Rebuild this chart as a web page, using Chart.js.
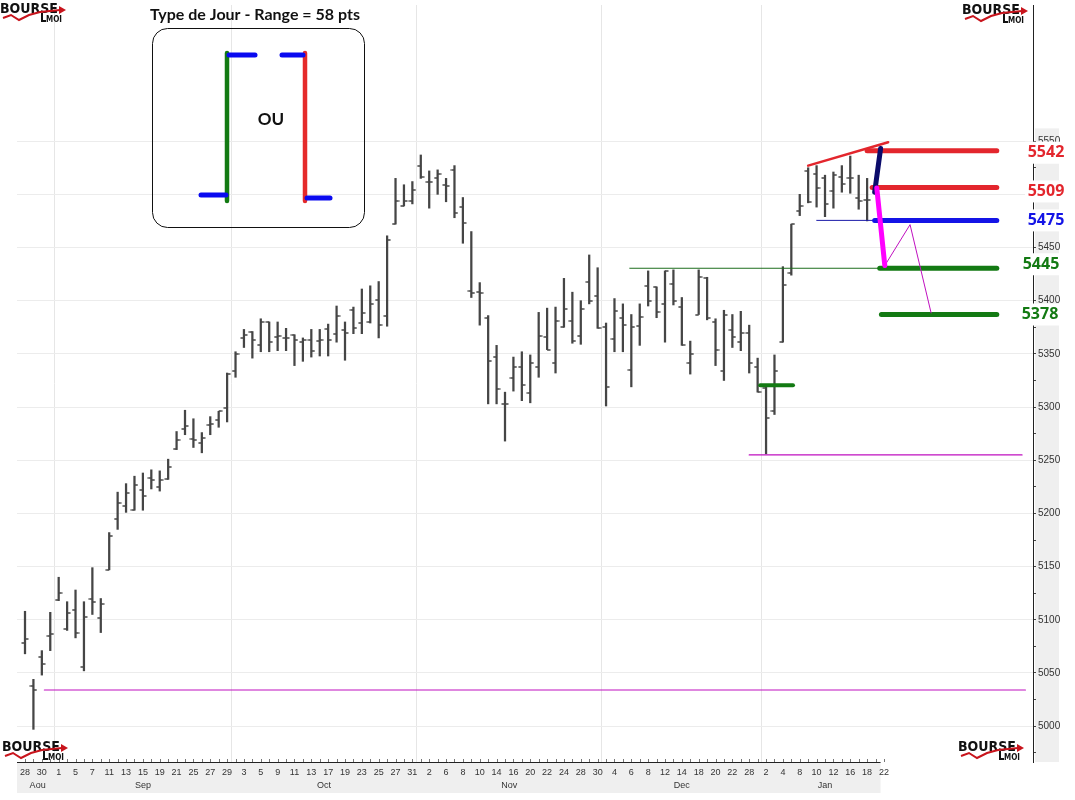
<!DOCTYPE html>
<html>
<head>
<meta charset="utf-8">
<script src="https://cdn.jsdelivr.net/npm/chart.js@4.4.1/dist/chart.umd.min.js"></script>
<style>
  html, body { margin: 0; padding: 0; background: #fff; }
  #wrap { position: relative; width: 1075px; height: 800px; }
</style>
</head>
<body>
<div id="wrap"><canvas id="chart" width="1075" height="800"></canvas></div>
<script>
'use strict';

// ── Data ─────────────────────────────────────────────────────────────────────
const monthNames = ['Aou', 'Sep', 'Oct', 'Nov', 'Dec', 'Jan'];
const monthDays = [
  [28, 29, 30, 31],
  [1, 4, 5, 6, 7, 8, 11, 12, 13, 14, 15, 18, 19, 20, 21, 22, 25, 26, 27, 28, 29],
  [2, 3, 4, 5, 6, 9, 10, 11, 12, 13, 16, 17, 18, 19, 20, 23, 24, 25, 26, 27, 30, 31],
  [1, 2, 3, 6, 7, 8, 9, 10, 13, 14, 15, 16, 17, 20, 21, 22, 23, 24, 27, 28, 29, 30],
  [1, 4, 5, 6, 7, 8, 11, 12, 13, 14, 15, 18, 19, 20, 21, 22, 27, 28, 29],
  [2, 3, 4, 5, 8, 9, 10, 11, 12, 15, 16, 17, 18, 19, 22],
];

const opens = [
  5078, 5038, 5065, 5085, 5119, 5091, 5109, 5056, 5120, 5102,
  5147, 5195, 5207, 5203, 5222, 5233, 5225, 5232, 5261, 5279,
  5270, 5266, 5283, 5288, 5299, 5334, 5365, 5371, 5358, 5380,
  5366, 5365, 5368, 5361, 5363, 5362, 5373, 5369, 5372, 5391,
  5379, 5380, 5401, 5386, 5472, 5489, 5494, 5527, 5512, 5515,
  5509, 5523, 5488, 5409, 5408, 5384, 5347, 5303, 5327, 5338,
  5313, 5338, 5366, 5341, 5375, 5381, 5367, 5418, 5404, 5375,
  5364, 5384, 5335, 5376, 5414, 5413, 5397, 5416, 5394, 5341,
  5387, 5421, 5380, 5334, 5372, 5361, 5370, 5338, 5318, 5296,
  5361, 5426, 5484, 5522, 5519, 5515, 5503, 5516, 5515, 5497,
  5495,
];
const highs = [
  5108, 5044, 5071, 5107, 5140, 5117, 5128, 5117, 5149, 5120,
  5182, 5220, 5228, 5235, 5238, 5241, 5240, 5251, 5277, 5297,
  5289, 5276, 5291, 5296, 5332, 5352, 5373, 5371, 5383, 5380,
  5380, 5374, 5368, 5365, 5373, 5373, 5378, 5395, 5380, 5394,
  5411, 5414, 5418, 5461, 5515, 5509, 5512, 5537, 5522, 5523,
  5515, 5527, 5497, 5465, 5417, 5386, 5358, 5314, 5347, 5352,
  5349, 5389, 5393, 5394, 5421, 5408, 5400, 5443, 5431, 5379,
  5402, 5397, 5387, 5397, 5428, 5413, 5428, 5429, 5403, 5362,
  5429, 5422, 5383, 5391, 5387, 5390, 5377, 5346, 5320, 5349,
  5432, 5472, 5500, 5525, 5527, 5518, 5521, 5527, 5536, 5518,
  5515,
];
const lows = [
  5068, 4997, 5048, 5071, 5118, 5090, 5083, 5052, 5105, 5088,
  5147, 5185, 5201, 5203, 5203, 5223, 5221, 5232, 5260, 5274,
  5262, 5257, 5274, 5281, 5286, 5328, 5356, 5346, 5352, 5352,
  5353, 5353, 5339, 5343, 5347, 5348, 5348, 5361, 5344, 5369,
  5369, 5379, 5365, 5376, 5472, 5489, 5491, 5515, 5487, 5500,
  5493, 5478, 5454, 5403, 5377, 5303, 5303, 5268, 5315, 5306,
  5304, 5328, 5354, 5332, 5375, 5360, 5359, 5397, 5374, 5301,
  5352, 5352, 5319, 5358, 5395, 5384, 5361, 5396, 5358, 5331,
  5387, 5382, 5339, 5325, 5356, 5353, 5332, 5314, 5256, 5293,
  5361, 5424, 5480, 5492, 5488, 5479, 5487, 5502, 5501, 5486,
  5475,
];
const closes = [
  5082, 5034, 5058, 5087, 5125, 5106, 5088, 5103, 5117, 5115,
  5179, 5210, 5219, 5227, 5216, 5231, 5231, 5244, 5269, 5282,
  5269, 5271, 5284, 5296, 5331, 5350, 5368, 5363, 5380, 5361,
  5367, 5365, 5363, 5363, 5353, 5363, 5363, 5386, 5370, 5374,
  5388, 5397, 5377, 5457, 5494, 5494, 5504, 5516, 5512, 5519,
  5508, 5482, 5473, 5407, 5407, 5343, 5317, 5303, 5338, 5321,
  5341, 5367, 5354, 5381, 5392, 5362, 5392, 5400, 5374, 5319,
  5390, 5377, 5375, 5385, 5400, 5389, 5428, 5400, 5358, 5350,
  5422, 5384, 5354, 5387, 5366, 5370, 5341, 5314, 5290, 5334,
  5415, 5472, 5489, 5493, 5506, 5491, 5518, 5510, 5515, 5494,
  5495,
];

// target levels drawn on the right
const levelTexts  = ['5542', '5509', '5475', '5445', '5378'];
const levelValues = [5541, 5506.5, 5475.5, 5430.5, 5387];
const levelFrom   = [100.0, 100.6, 100.9, 101.5, 101.7];
const levelTo     = 115.4;

// hand-drawn lines, as [session index, price]
const lowLine1   = [[2.3, 5034], [118.8, 5034]];
const lowLine2   = [[86.0, 5255], [118.4, 5255]];
const greenThin  = [[71.8, 5430.5], [101.5, 5430.5]];
const blueThin   = [[94.0, 5475.5], [100.9, 5475.5]];
const greenShort = [[87.3, 5320.5], [91.2, 5320.5]];
const redTrend   = [[93.0, 5527], [102.5, 5549]];
const navyLeg    = [[101.6, 5543], [100.9, 5502]];
const pinkLeg    = [[101.15, 5506], [102.1, 5433]];
const pinkPath   = [[102.1, 5433], [105.1, 5471.5], [107.6, 5388.5]];

const yTickValues = [];
for (let v = 4975; v <= 5550; v += 25) yTickValues.push(v);

// ── Derived session list ─────────────────────────────────────────────────────
const sessions = [];
monthDays.forEach((days, m) => days.forEach(d => sessions.push({ day: d, month: m })));
const lastSession = sessions.length - 1;
const monthStart = new Set();
sessions.forEach((s, i) => { if (i > 0 && sessions[i - 1].month !== s.month) monthStart.add(i); });

// ── Styles ───────────────────────────────────────────────────────────────────
const RED = '#e3262d', BLUE = '#1414e6', GREEN = '#137a13', NAVY = '#0b0b6b';
const PINK = '#ff00ff', PURPLE = '#c010c0', BAR = '#454545';
const levelColors = [RED, RED, BLUE, GREEN, GREEN];
const levelLabelDx = [13, 13, 13, 8, 7];
const levelLabelDy = [2, 4, 0, -4, 0];

function tickImage(side) {
  const c = document.createElement('canvas');
  c.width = 8; c.height = 2;
  const g = c.getContext('2d');
  g.fillStyle = BAR;
  g.fillRect(side === 'left' ? 0.5 : 4, 0.25, 3.5, 1.5);
  return c;
}

const pts = arr => arr.map(([x, y]) => ({ x, y }));
function lineSet(points, color, width, order) {
  return {
    type: 'line', data: pts(points), borderColor: color, borderWidth: width,
    pointRadius: 0, borderCapStyle: 'round', borderJoinStyle: 'round',
    fill: false, tension: 0, order,
  };
}

const datasets = [
  {
    type: 'bar',
    data: highs.map((h, i) => ({ x: i, y: [lows[i], h] })),
    backgroundColor: BAR, borderWidth: 0, barThickness: 1.6, order: 5,
  },
  {
    type: 'line', showLine: false,
    data: opens.map((v, i) => ({ x: i, y: v })),
    pointStyle: tickImage('left'), pointRadius: 4, order: 4,
  },
  {
    type: 'line', showLine: false,
    data: closes.map((v, i) => ({ x: i, y: v })),
    pointStyle: tickImage('right'), pointRadius: 4, order: 4,
  },
  lineSet(lowLine1, PURPLE, 1.2, 3),
  lineSet(lowLine2, PURPLE, 1.2, 3),
  lineSet(greenThin, '#1d6e1d', 1, 3),
  lineSet(blueThin, '#1a1aa8', 1, 3),
  lineSet(greenShort, GREEN, 4, 3),
  lineSet(redTrend, RED, 2.5, 3),
  ...levelValues.map((v, i) => lineSet([[levelFrom[i], v], [levelTo, v]], levelColors[i], 5, 2)),
  lineSet(pinkPath, PURPLE, 1, 1),
  lineSet(navyLeg, NAVY, 5, 1),
  lineSet(pinkLeg, PINK, 5, 0),
];

// ── Decorations ──────────────────────────────────────────────────────────────
function drawLogo(ctx, x, y) {
  ctx.save();
  ctx.fillStyle = '#111';
  ctx.font = 'bold 14px "DejaVu Sans Condensed", "DejaVu Sans"';
  ctx.textBaseline = 'alphabetic';
  ctx.textAlign = 'left';
  ctx.fillText('BOURSE', x, y + 13);
  ctx.strokeStyle = '#c8141c';
  ctx.lineWidth = 2;
  ctx.beginPath();
  ctx.moveTo(x + 3, y + 18);
  ctx.lineTo(x + 11, y + 15);
  ctx.lineTo(x + 19, y + 20);
  ctx.lineTo(x + 29, y + 15);
  ctx.lineTo(x + 40, y + 12);
  ctx.lineTo(x + 60, y + 10);
  ctx.stroke();
  ctx.fillStyle = '#c8141c';
  ctx.beginPath();
  ctx.moveTo(x + 66, y + 10);
  ctx.lineTo(x + 59, y + 6);
  ctx.lineTo(x + 59, y + 14);
  ctx.closePath();
  ctx.fill();
  ctx.fillStyle = '#111';
  ctx.fillRect(x + 41, y + 13, 2, 9);
  ctx.fillRect(x + 41, y + 20, 5, 2);
  ctx.font = 'bold 8px "DejaVu Sans Condensed", "DejaVu Sans"';
  ctx.fillText('MOI', x + 46, y + 22);
  ctx.restore();
}

function stroke(ctx, color, width, a, b) {
  ctx.strokeStyle = color;
  ctx.lineWidth = width;
  ctx.lineCap = 'round';
  ctx.beginPath();
  ctx.moveTo(a[0], a[1]);
  ctx.lineTo(b[0], b[1]);
  ctx.stroke();
}

function drawInset(ctx) {
  ctx.save();
  ctx.fillStyle = '#111';
  ctx.font = 'bold 16px Lato, "Open Sans", sans-serif';
  ctx.textAlign = 'center';
  ctx.textBaseline = 'middle';
  ctx.fillText('Type de Jour - Range = 58 pts', 255, 15);

  ctx.strokeStyle = '#111';
  ctx.lineWidth = 1;
  ctx.beginPath();
  ctx.roundRect(152.5, 28.5, 212, 199, 15);
  ctx.stroke();

  stroke(ctx, GREEN, 4.5, [227, 53], [227, 201]);
  stroke(ctx, '#e52a2a', 4.5, [305, 53], [305, 201]);
  stroke(ctx, '#0a0af0', 5, [229, 55], [255, 55]);
  stroke(ctx, '#0a0af0', 5, [201, 195], [226, 195]);
  stroke(ctx, '#0a0af0', 5, [282, 55], [303, 55]);
  stroke(ctx, '#0a0af0', 5, [307, 198], [330, 198]);

  ctx.font = 'bold 17px Lato, "Open Sans", sans-serif';
  ctx.fillStyle = '#111';
  ctx.fillText('OU', 271, 120);
  ctx.restore();
}

const decor = {
  id: 'decor',
  beforeDraw(chart) {
    const { ctx, chartArea: a, scales: { x, y } } = chart;
    ctx.save();
    ctx.fillStyle = '#fff';
    ctx.fillRect(0, 0, chart.width, chart.height);
    ctx.fillStyle = '#efefef';
    const stripTop = y.getPixelForValue(5562);
    ctx.fillRect(a.right + 2, stripTop, 24, a.bottom - stripTop);
    const xEnd = x.getPixelForValue(lastSession - 0.4);
    ctx.fillRect(a.left, a.bottom + 1, xEnd - a.left, 30);
    ctx.restore();
  },
  afterDraw(chart) {
    const { ctx, chartArea: a, scales: { x, y } } = chart;
    ctx.save();
    // bottom axis with small ticks up to the last session
    const xEnd = x.getPixelForValue(lastSession - 0.4);
    ctx.strokeStyle = '#222';
    ctx.lineWidth = 1;
    ctx.beginPath();
    ctx.moveTo(a.left, a.bottom + 0.5);
    ctx.lineTo(xEnd, a.bottom + 0.5);
    ctx.stroke();
    ctx.strokeStyle = '#777';
    ctx.beginPath();
    sessions.forEach((s, i) => {
      const px = Math.round(x.getPixelForValue(i)) + 0.5;
      ctx.moveTo(px, a.bottom);
      ctx.lineTo(px, a.bottom - 3);
    });
    ctx.stroke();

    // month names centred on their sessions
    ctx.fillStyle = '#333';
    ctx.font = '9px "Liberation Sans", Arial, sans-serif';
    ctx.textAlign = 'center';
    ctx.textBaseline = 'middle';
    monthNames.forEach((name, m) => {
      const idx = sessions.map((s, i) => (s.month === m ? i : -1)).filter(i => i >= 0);
      const mid = (idx[0] + idx[idx.length - 1]) / 2;
      ctx.fillText(name, x.getPixelForValue(mid), a.bottom + 24);
    });

    // level labels on the price axis
    ctx.font = 'bold 16px "Open Sans", sans-serif';
    levelTexts.forEach((t, i) => {
      const cx = a.right + levelLabelDx[i];
      const cy = y.getPixelForValue(levelValues[i]) + levelLabelDy[i];
      ctx.fillStyle = '#fff';
      ctx.fillRect(cx - 21, cy - 11, 42, 22);
      ctx.fillStyle = levelColors[i];
      ctx.fillText(t, cx, cy);
    });
    ctx.restore();

    drawInset(ctx);
    drawLogo(ctx, 0, 0);
    drawLogo(ctx, 962, 1);
    drawLogo(ctx, 2, 738);
    drawLogo(ctx, 958, 738);
  },
};

// ── Chart ────────────────────────────────────────────────────────────────────
new Chart(document.getElementById('chart'), {
  type: 'bar',
  data: { datasets },
  options: {
    responsive: false,
    animation: false,
    events: [],
    layout: { padding: { left: 17, right: 0, top: 0, bottom: 0 } },
    plugins: { legend: { display: false }, tooltip: { enabled: false } },
    scales: {
      x: {
        type: 'linear', offset: false, min: -0.95, max: 119.7,
        afterBuildTicks: s => { s.ticks = sessions.map((_, i) => ({ value: i })); },
        afterFit: s => { s.height = 38; s.paddingLeft = 0; s.paddingRight = 0; },
        border: { display: false },
        grid: {
          drawTicks: false,
          color: c => (monthStart.has(c.tick && c.tick.value) ? '#e6e6e6' : 'rgba(0,0,0,0)'),
        },
        ticks: {
          autoSkip: false, maxRotation: 0, minRotation: 0, padding: 5,
          color: '#333', font: { family: '"Liberation Sans", Arial, sans-serif', size: 9 },
          callback: v => (Number.isInteger(v) && v % 2 === 0 && sessions[v] ? String(sessions[v].day) : ''),
        },
      },
      y: {
        position: 'right', min: 4966.3, max: 5678,
        afterBuildTicks: s => { s.ticks = yTickValues.map(v => ({ value: v })); },
        afterFit: s => { s.width = 42; s.paddingTop = 0; s.paddingBottom = 0; },
        border: { display: true, color: '#222', width: 1 },
        grid: {
          tickLength: 3, tickColor: '#444',
          color: c => (c.tick && c.tick.value % 50 === 0 ? '#ececec' : 'rgba(0,0,0,0)'),
        },
        ticks: {
          padding: 2, color: '#333',
          font: { family: '"Liberation Sans", Arial, sans-serif', size: 10 },
          callback: v => (v % 50 === 0 ? String(v) : ''),
        },
      },
    },
  },
  plugins: [decor],
});
</script>
</body>
</html>
